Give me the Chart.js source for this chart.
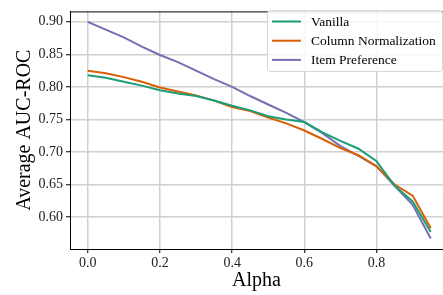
<!DOCTYPE html>
<html>
<head>
<meta charset="utf-8">
<script src="https://cdn.jsdelivr.net/npm/chart.js@4"></script>
<style>
  html, body { margin: 0; padding: 0; background: #fff; }
  #wrap { width: 443px; height: 295px; }
  .precarga { font-family: "Liberation Serif"; position: absolute; left: -999px; }
</style>
</head>
<body>
<span class="precarga">0.0 Alpha</span>
<div id="wrap"><canvas id="grafico" width="443" height="295"></canvas></div>
<script>
const alphas = [0, 0.05, 0.1, 0.15, 0.2, 0.25, 0.3, 0.35, 0.4, 0.45, 0.5, 0.55, 0.6, 0.65, 0.7, 0.75, 0.8, 0.85, 0.9, 0.95];
const vanilla = [0.818, 0.814, 0.808, 0.802, 0.795, 0.790, 0.786, 0.779, 0.771, 0.764, 0.755, 0.750, 0.746, 0.730, 0.717, 0.705, 0.686, 0.648, 0.624, 0.577];
const columnNorm = [0.825, 0.821, 0.815, 0.808, 0.799, 0.793, 0.787, 0.779, 0.769, 0.763, 0.753, 0.744, 0.733, 0.720, 0.706, 0.695, 0.678, 0.650, 0.633, 0.583];
const itemPref = [0.900, 0.888, 0.876, 0.862, 0.849, 0.838, 0.825, 0.812, 0.800, 0.786, 0.773, 0.760, 0.746, 0.729, 0.709, 0.694, 0.678, 0.648, 0.619, 0.567];
const xTicks = [0, 0.2, 0.4, 0.6, 0.8];
const yTicks = [0.60, 0.65, 0.70, 0.75, 0.80, 0.85, 0.90];

const serif = '"Liberation Serif", "Times New Roman", Times, serif';

function puntos(ys) {
    return alphas.map((a, i) => ({ x: a, y: ys[i] }));
}

// borde superior y leyenda dentro del area
const extras = {
    id: 'extras',
    afterDraw(chart) {
        const ctx = chart.ctx;
        const area = chart.chartArea;
        ctx.save();
        ctx.strokeStyle = '#000';
        ctx.lineWidth = 1;
        ctx.beginPath();
        ctx.moveTo(area.left, area.top + 0.5);
        ctx.lineTo(area.right, area.top + 0.5);
        ctx.stroke();

        const bx = 267.5, by = 10.5, bw = 175, bh = 61, r = 3;
        ctx.fillStyle = 'rgba(255,255,255,0.85)';
        ctx.strokeStyle = '#d6d6d6';
        ctx.beginPath();
        ctx.roundRect(bx, by, bw, bh, r);
        ctx.fill();
        ctx.stroke();

        ctx.font = '13.5px ' + serif;
        ctx.textBaseline = 'middle';
        chart.data.datasets.forEach((ds, i) => {
            const yy = 21.5 + i * 19.2;
            ctx.strokeStyle = ds.borderColor;
            ctx.lineWidth = 2;
            ctx.beginPath();
            ctx.moveTo(272, yy);
            ctx.lineTo(301, yy);
            ctx.stroke();
            ctx.fillStyle = '#000';
            ctx.fillText(ds.label, 311, yy + 1);
        });
        ctx.restore();
    }
};

function dibujar() {
    new Chart(document.getElementById('grafico').getContext('2d'), {
        type: 'line',
        data: {
            datasets: [
                { label: 'Vanilla', data: puntos(vanilla), borderColor: '#1b9e77' },
                { label: 'Column Normalization', data: puntos(columnNorm), borderColor: '#d95f02' },
                { label: 'Item Preference', data: puntos(itemPref), borderColor: '#7570b3' }
            ]
        },
        options: {
            responsive: false,
            animation: false,
            layout: { padding: { top: 3, right: 0, left: 0, bottom: 0 } },
            elements: {
                point: { radius: 0 },
                line: { borderWidth: 2, tension: 0, fill: false }
            },
            plugins: {
                legend: { display: false },
                tooltip: { enabled: false }
            },
            scales: {
                x: {
                    type: 'linear',
                    min: -0.049,
                    max: 0.984,
                    afterBuildTicks: s => { s.ticks = xTicks.map(v => ({ value: v })); },
                    afterFit: s => { s.height = 46; },
                    grid: { color: '#d0d0d0', lineWidth: 1.5, tickColor: '#000', tickLength: 4, tickWidth: 1 },
                    border: { color: '#000', width: 1 },
                    ticks: {
                        color: '#222',
                        padding: 2,
                        maxRotation: 0,
                        font: { family: serif, size: 14 },
                        callback: v => Number(v).toFixed(1)
                    },
                    title: {
                        display: true,
                        text: 'Alpha',
                        color: '#000',
                        font: { family: serif, size: 20, lineHeight: 1.2 },
                        padding: { top: 0, bottom: 2 }
                    }
                },
                y: {
                    type: 'linear',
                    min: 0.551,
                    max: 0.916,
                    afterBuildTicks: s => { s.ticks = yTicks.map(v => ({ value: v })); },
                    afterFit: s => { s.width = 70; },
                    grid: { color: '#d0d0d0', lineWidth: 1.5, tickColor: '#000', tickLength: 4, tickWidth: 1 },
                    border: { color: '#000', width: 1 },
                    ticks: {
                        color: '#222',
                        padding: 3,
                        font: { family: serif, size: 14 },
                        callback: v => Number(v).toFixed(2)
                    },
                    title: {
                        display: true,
                        text: 'Average AUC-ROC',
                        color: '#000',
                        font: { family: serif, size: 20, lineHeight: 1.2 },
                        padding: { top: 13, bottom: 0 }
                    }
                }
            }
        },
        plugins: [extras]
    });
}

document.fonts.load('14px "Liberation Serif"').then(dibujar, dibujar);
</script>
</body>
</html>
